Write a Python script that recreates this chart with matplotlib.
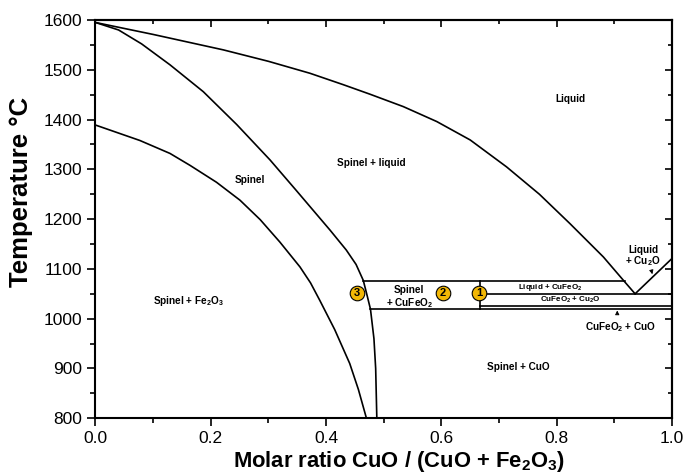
import matplotlib
matplotlib.use("Agg")
import matplotlib.pyplot as plt
from matplotlib.ticker import MultipleLocator

plt.rcParams['font.family'] = ['Liberation Sans', 'DejaVu Sans']
plt.rcParams['mathtext.fontset'] = 'custom'
plt.rcParams['mathtext.rm'] = 'Liberation Sans:bold'
plt.rcParams['mathtext.it'] = 'Liberation Sans:bold'
plt.rcParams['mathtext.bf'] = 'Liberation Sans:bold'
plt.rcParams['mathtext.default'] = 'rm'

# ---- data ----
liquidus_x = [0.0, 0.10, 0.2217, 0.30, 0.372, 0.43, 0.476, 0.534, 0.592, 0.65, 0.713, 0.77, 0.823, 0.881, 0.918, 0.936]
liquidus_T = [1595, 1571, 1540, 1517, 1493, 1470, 1451, 1426, 1396, 1359, 1305, 1250, 1191, 1124, 1074, 1050]

cu2o_x = [0.936, 1.0]
cu2o_T = [1050, 1121]

spinel_x = [0.0, 0.04, 0.08, 0.1292, 0.187, 0.245, 0.3027, 0.348, 0.4068, 0.435, 0.452, 0.4645, 0.4715, 0.477, 0.483, 0.486, 0.488]
spinel_T = [1595, 1580, 1552, 1510, 1456, 1390, 1319, 1258, 1178, 1138, 1109, 1077, 1045, 1019, 960, 900, 800]

fe2o3_x = [0.0, 0.077, 0.1292, 0.164, 0.21, 0.2507, 0.2857, 0.3198, 0.3547, 0.373, 0.389, 0.415, 0.441, 0.456, 0.470]
fe2o3_T = [1389, 1358, 1332, 1308, 1274, 1238, 1199, 1154, 1104, 1072, 1037, 978, 910, 858, 800]

# horizontal invariant lines: (x_start, x_end, T)
hline_x0 = [0.4645, 0.667, 0.667, 0.477]
hline_x1 = [0.918, 1.0, 1.0, 1.0]
hline_T = [1075, 1050, 1025, 1019]

vline_x = [0.667]
vline_T0 = [1019]
vline_T1 = [1075]

marker_x = [0.666, 0.603, 0.453]
marker_T = [1051, 1051, 1051]
marker_lbl = ['1', '2', '3']

region_lbl = ['Liquid', 'Spinel + liquid', 'Spinel', r'Spinel + Fe$_2$O$_3$',
              'Spinel', r'+ CuFeO$_2$', 'Spinel + CuO', r'CuFeO$_2$ + CuO',
              'Liquid', r'+ Cu$_2$O']
region_x = [0.823, 0.479, 0.267, 0.161, 0.543, 0.545, 0.733, 0.910, 0.950, 0.950]
region_T = [1441, 1313, 1278, 1036, 1058, 1031, 904, 983, 1139, 1115]

small_lbl = [r'Liquid + CuFeO$_2$', r'CuFeO$_2$ + Cu$_2$O']
small_x = [0.788, 0.823]
small_T = [1062, 1037]

xticks = [0.0, 0.2, 0.4, 0.6, 0.8, 1.0]
yticks = [800, 900, 1000, 1100, 1200, 1300, 1400, 1500, 1600]

fig = plt.figure(figsize=(6.83, 4.75), dpi=100)
ax = fig.add_axes([0.1398, 0.1194, 0.8441, 0.8385])

lw = 1.2
ax.plot(liquidus_x, liquidus_T, color='black', lw=lw)
ax.plot(cu2o_x, cu2o_T, color='black', lw=lw)
ax.plot(spinel_x, spinel_T, color='black', lw=lw)
ax.plot(fe2o3_x, fe2o3_T, color='black', lw=lw)
for x0, x1, t in zip(hline_x0, hline_x1, hline_T):
    ax.plot([x0, x1], [t, t], color='black', lw=lw)
for x, t0, t1 in zip(vline_x, vline_T0, vline_T1):
    ax.plot([x, x], [t0, t1], color='black', lw=lw)

for x, t, l in zip(marker_x, marker_T, marker_lbl):
    ax.plot(x, t, 'o', ms=10.5, mfc='#F2B705', mec='black', mew=0.8, zorder=5)
    ax.text(x, t, l, ha='center', va='center', fontsize=8, fontweight='bold', zorder=6)

for x, t, l in zip(region_x, region_T, region_lbl):
    ax.text(x, t, l, ha='center', va='center', fontsize=7.2, fontweight='bold')
for x, t, l in zip(small_x, small_T, small_lbl):
    ax.text(x, t, l, ha='center', va='center', fontsize=5.8, fontweight='bold')

# arrows
ax.annotate('', xy=(0.905, 1022), xytext=(0.905, 1006),
            arrowprops=dict(arrowstyle='-|>', color='black', lw=0.6, mutation_scale=6))
ax.annotate('', xy=(0.967, 1084), xytext=(0.963, 1103),
            arrowprops=dict(arrowstyle='-|>', color='black', lw=0.6, mutation_scale=6))

ax.set_xlim(0, 1)
ax.set_ylim(800, 1600)
ax.set_xticks(xticks)
ax.set_yticks(yticks)
ax.set_xticklabels([f'{v:.1f}' for v in xticks])
ax.set_yticklabels([str(v) for v in yticks])
ax.xaxis.set_minor_locator(MultipleLocator(0.1))
ax.yaxis.set_minor_locator(MultipleLocator(50))
ax.tick_params(which='major', direction='out', length=6, width=1.2, labelsize=12.5)
ax.tick_params(which='minor', direction='out', length=3.5, width=1.2)
for s in ax.spines.values():
    s.set_linewidth(1.5)

top = ax.secondary_xaxis('top')
top.set_xticks(xticks)
top.xaxis.set_minor_locator(MultipleLocator(0.1))
top.tick_params(which='major', direction='in', length=5, width=1.2, labeltop=False)
top.tick_params(which='minor', direction='in', length=3, width=1.2)
top.spines['top'].set_linewidth(1.5)
right = ax.secondary_yaxis('right')
right.set_yticks(yticks)
right.yaxis.set_minor_locator(MultipleLocator(50))
right.tick_params(which='major', direction='in', length=5, width=1.2, labelright=False)
right.tick_params(which='minor', direction='in', length=3, width=1.2)
right.spines['right'].set_linewidth(1.5)

ax.set_xlabel(r'Molar ratio CuO / (CuO + Fe$_2$O$_3$)', fontsize=15.8, fontweight='bold', va='top')
ax.xaxis.set_label_coords(0.526, -0.078)
ax.set_ylabel('Temperature °C', fontsize=18.5, fontweight='bold')
ax.yaxis.set_label_coords(-0.108, 0.568)

fig.savefig('out.png', dpi=100)
